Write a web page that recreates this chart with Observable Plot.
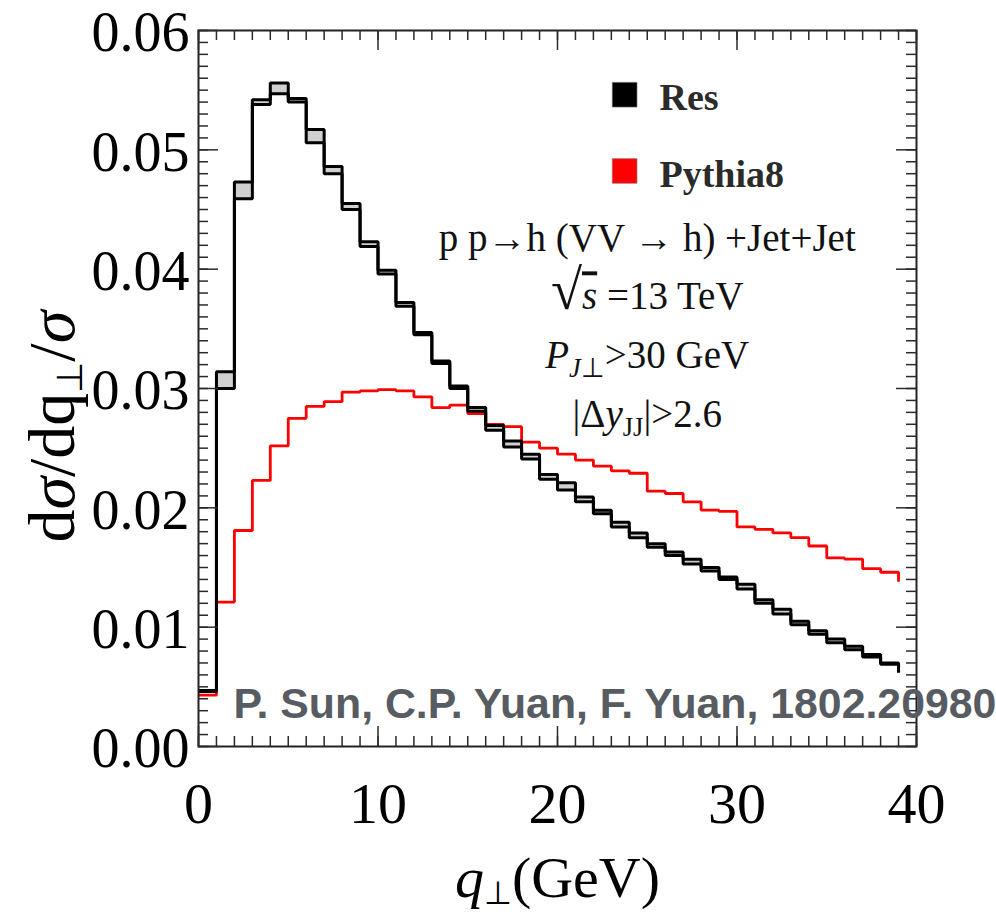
<!DOCTYPE html>
<html>
<head>
<meta charset="utf-8">
<script src="https://cdn.jsdelivr.net/npm/d3@7"></script>
<script src="https://cdn.jsdelivr.net/npm/@observablehq/plot@0.6"></script>
<style>
  html, body { margin: 0; padding: 0; background: #fff; }
  #chart { width: 996px; height: 918px; }
</style>
</head>
<body>
<div id="chart"></div>
<script>
// ---- data ----
const qBins = [0,1,2,3,4,5,6,7,8,9,10,11,12,13,14,15,16,17,18,19,20,21,22,23,24,25,26,27,28,29,30,31,32,33,34,35,36,37,38,39];
const resLow  = [0.0046,0.0300,0.0459,0.0538,0.0547,0.0540,0.0506,0.0480,0.0450,0.0419,0.0396,0.0369,0.0345,0.0321,0.0300,0.0281,0.0265,0.0251,0.0241,0.0224,0.0215,0.0205,0.0195,0.0184,0.0175,0.0167,0.0160,0.0153,0.0147,0.0140,0.0132,0.0120,0.0111,0.0102,0.0094,0.0087,0.0081,0.0075,0.0069,0.0062];
const resHigh = [0.0047,0.0314,0.0473,0.0542,0.0556,0.0543,0.0517,0.0486,0.0455,0.0423,0.0399,0.0372,0.0347,0.0323,0.0302,0.0284,0.0269,0.0256,0.0245,0.0228,0.0221,0.0209,0.0198,0.0188,0.0179,0.0170,0.0163,0.0157,0.0150,0.0142,0.0136,0.0123,0.0115,0.0105,0.0097,0.0090,0.0084,0.0077,0.0070,0.0062];
const pythia8 = [0.0043,0.0121,0.0181,0.0223,0.0252,0.0275,0.0285,0.0289,0.0297,0.0298,0.0299,0.0298,0.0293,0.0284,0.0286,0.0279,0.0270,0.0268,0.0255,0.0250,0.0245,0.0240,0.0235,0.0231,0.0229,0.0214,0.0212,0.0205,0.0198,0.0197,0.0184,0.0182,0.0179,0.0175,0.0168,0.0158,0.0157,0.0149,0.0146,0.0138];

const seriesNames = ["Res", "Pythia8"];
const seriesColors = ["#000000", "#ff0000"];

const xTicks = [0, 10, 20, 30, 40];
const xTickLabels = ["0", "10", "20", "30", "40"];
const yTicks = [0, 0.01, 0.02, 0.03, 0.04, 0.05, 0.06];
const yTickLabels = ["0.00", "0.01", "0.02", "0.03", "0.04", "0.05", "0.06"];

const xLabel = "q⊥(GeV)";
const yLabel = "dσ/dq⊥/σ";
const annotationLines = ["p p→h (VV → h) +Jet+Jet", "√s =13 TeV", "PJ⊥>30 GeV", "|ΔyJJ|>2.6"];
const creditText = "P. Sun, C.P. Yuan, F. Yuan, 1802.20980";

// rich-text formatting of some labels (italic / subscript / overline)
const richFormats = {
  "q⊥(GeV)": {size: 58, segs: [{t: "q", i: true}, {t: "⊥", sub: true, subScale: 0.55, subShift: 0.12}, {t: "(GeV)"}]},
  "dσ/dq⊥/σ": {size: 66, segs: [{t: "d"}, {t: "σ", i: true}, {t: "/dq"}, {t: "⊥", sub: true, subScale: 0.55, subShift: 0.12}, {t: "/"}, {t: "σ", i: true}]},
  "√s =13 TeV": {size: 39, segs: [{t: "√", scale: 1.45}, {t: "s", i: true, over: true}, {t: " =13 TeV"}]},
  "PJ⊥>30 GeV": {size: 39, segs: [{t: "P", i: true}, {t: "J", i: true, sub: true}, {t: "⊥", sub: true}, {t: ">30 GeV"}]},
  "|ΔyJJ|>2.6": {size: 39, segs: [{t: "|Δ"}, {t: "y", i: true}, {t: "JJ", sub: true}, {t: "|>2.6"}]}
};

// ---- table for the library ----
const rows = qBins.map((q, i) => ({q, low: resLow[i], high: resHigh[i], py: pythia8[i]}));

const W = 996, H = 918, mL = 198, mR = 80, mT = 30, mB = 172;
const innerW = W - mL - mR, innerH = H - mT - mB;
const xMinor = d3.range(0, 41, 1);
const yMinor = d3.range(0, 61, 1).map(d => d / 1000);
const tickColor = "#2a2a2a";
const serif = "'Liberation Serif', 'Times New Roman', serif";

const stepLine = {x: "q", curve: "step-after", strokeLinejoin: "miter", strokeLinecap: "butt"};

const chart = Plot.plot({
  width: W, height: H,
  marginLeft: mL, marginRight: mR, marginTop: mT, marginBottom: mB,
  x: {domain: [0, 40], label: null},
  y: {domain: [0, 0.06], label: null},
  style: {fontFamily: serif, background: "#fff", color: "#000"},
  marks: [
    // uncertainty band of Res
    Plot.areaY(rows, {x: "q", y1: "low", y2: "high", curve: "step-after", fill: "#d0d0d0"}),
    // Pythia8
    Plot.line(rows, {...stepLine, y: "py", stroke: seriesColors[1], strokeWidth: 2.8}),
    // Res band edges
    Plot.line(rows, {...stepLine, y: "low", stroke: seriesColors[0], strokeWidth: 3}),
    Plot.line(rows, {...stepLine, y: "high", stroke: seriesColors[0], strokeWidth: 3}),
    // frame
    Plot.frame({stroke: "#222", strokeWidth: 2}),
    // inward ticks: bottom / top
    Plot.tickX(xMinor, {x: d => d, insetTop: innerH - 10, stroke: tickColor, strokeWidth: 1.5}),
    Plot.tickX(xMinor, {x: d => d, insetBottom: innerH - 10, stroke: tickColor, strokeWidth: 1.5}),
    Plot.tickX(xTicks, {x: d => d, insetTop: innerH - 20, stroke: tickColor, strokeWidth: 1.5}),
    Plot.tickX(xTicks, {x: d => d, insetBottom: innerH - 20, stroke: tickColor, strokeWidth: 1.5}),
    // inward ticks: left / right
    Plot.tickY(yMinor, {y: d => d, insetRight: innerW - 10, stroke: tickColor, strokeWidth: 1.5}),
    Plot.tickY(yMinor, {y: d => d, insetLeft: innerW - 10, stroke: tickColor, strokeWidth: 1.5}),
    Plot.tickY(yTicks, {y: d => d, insetRight: innerW - 20, stroke: tickColor, strokeWidth: 1.5}),
    Plot.tickY(yTicks, {y: d => d, insetLeft: innerW - 20, stroke: tickColor, strokeWidth: 1.5}),
    // tick labels
    Plot.axisX({ticks: xTicks, tickSize: 0, tickPadding: 35, fontSize: 58, label: null,
      tickFormat: d => xTickLabels[xTicks.indexOf(d)]}),
    Plot.axisY({ticks: yTicks, tickSize: 0, tickPadding: 9, fontSize: 56, label: null, dy: 3,
      tickFormat: d => yTickLabels[yTicks.indexOf(d)]}),
    // axis titles
    Plot.text([xLabel], {x: 20, y: -0.0126, text: d => d, fontSize: 58, lineAnchor: "bottom", fill: "#000"}),
    Plot.text([yLabel], {x: -8.1, y: 0.0268, text: d => d, fontSize: 66, rotate: -90, fill: "#000"}),
    // legend
    Plot.dot(seriesNames, {x: 23.74, y: (d, i) => 0.05462 - i * 0.00639, symbol: "square", r: 14,
      fill: (d, i) => seriesColors[i], stroke: "#888", strokeWidth: 0.6}),
    Plot.text(seriesNames, {x: 25.68, y: (d, i) => 0.05336 - i * 0.00649, text: d => d,
      textAnchor: "start", lineAnchor: "bottom", fontSize: 38, fontWeight: "bold", fill: "#2b2b2b"}),
    // annotation
    Plot.text(annotationLines, {x: 25, y: (d, i) => 0.04156 - i * 0.00493, text: d => d,
      textAnchor: "middle", lineAnchor: "bottom", fontSize: 39, fill: "#111"}),
    // credit
    Plot.text([creditText], {x: 1.95, y: 0.00235, text: d => d, textAnchor: "start", lineAnchor: "bottom",
      fontFamily: "'Liberation Sans', Arial, sans-serif", fontWeight: "bold", fontSize: 42.8, fill: "#575c62"})
  ]
});

// apply italic / subscript / overline formatting to the special labels
const SVGNS = "http://www.w3.org/2000/svg";
chart.querySelectorAll("text").forEach(t => {
  const fmt = richFormats[t.textContent];
  if (!fmt) return;
  const fs = fmt.size;
  while (t.firstChild) t.removeChild(t.firstChild);
  let shift = 0;
  for (const s of fmt.segs) {
    const ts = document.createElementNS(SVGNS, "tspan");
    ts.textContent = s.t;
    const target = s.sub ? (s.subShift ?? 0.22) * fs : 0;
    const dy = target - shift;
    if (dy) ts.setAttribute("dy", dy);
    shift = target;
    if (s.sub) ts.setAttribute("font-size", (s.subScale ?? 0.68) * fs);
    if (s.scale) ts.setAttribute("font-size", s.scale * fs);
    if (s.i) ts.setAttribute("font-style", "italic");
    if (s.over) ts.setAttribute("text-decoration", "overline");
    t.appendChild(ts);
  }
});

document.getElementById("chart").appendChild(chart);
</script>
</body>
</html>
